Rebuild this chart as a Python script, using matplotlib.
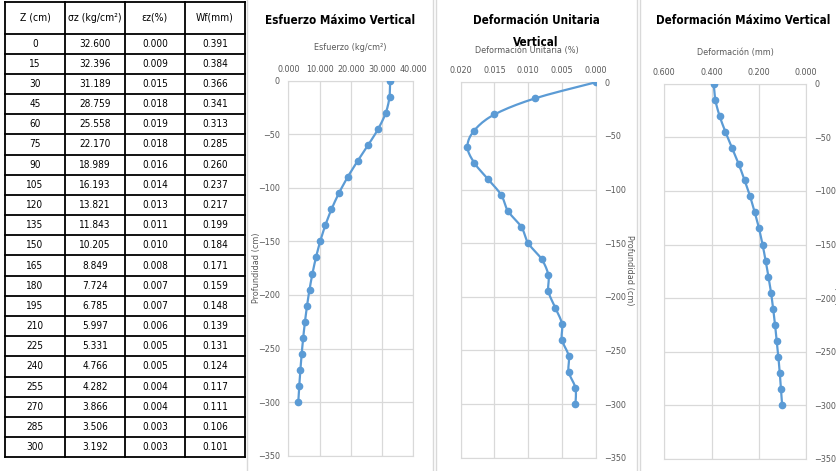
import numpy as np
import matplotlib.pyplot as plt

# datos de la tabla
z = [0, 15, 30, 45, 60, 75, 90, 105, 120, 135, 150, 165, 180, 195, 210, 225, 240, 255, 270, 285, 300]
sigma = [32.600, 32.396, 31.189, 28.759, 25.558, 22.170, 18.989, 16.193, 13.821, 11.843, 10.205,
         8.849, 7.724, 6.785, 5.997, 5.331, 4.766, 4.282, 3.866, 3.506, 3.192]
eps = [0.000, 0.009, 0.015, 0.018, 0.019, 0.018, 0.016, 0.014, 0.013, 0.011, 0.010,
       0.008, 0.007, 0.007, 0.006, 0.005, 0.005, 0.004, 0.004, 0.003, 0.003]
wf = [0.391, 0.384, 0.366, 0.341, 0.313, 0.285, 0.260, 0.237, 0.217, 0.199, 0.184,
      0.171, 0.159, 0.148, 0.139, 0.131, 0.124, 0.117, 0.111, 0.106, 0.101]
headers = ["Z (cm)", "σz (kg/cm²)", "εz(%)", "Wf(mm)"]

plt.rcParams['font.family'] = ['DejaVu Sans']
plt.rcParams['font.stretch'] = 'condensed'
BLUE = '#5B9BD5'
GRID = '#d9d9d9'
TXT = '#595959'


def smooth(x, y, xr, yr, n=10):
    # linea suavizada tipo Excel (Catmull-Rom) solo para dibujar
    P = np.column_stack([np.asarray(x, float) / xr, np.asarray(y, float) / yr])
    P = np.vstack([P[0], P, P[-1]])
    t = np.linspace(0, 1, n, endpoint=False)[:, None]
    out = []
    for i in range(1, len(P) - 2):
        p0, p1, p2, p3 = P[i - 1], P[i], P[i + 1], P[i + 2]
        c = 0.5 * (2 * p1 + (-p0 + p2) * t + (2 * p0 - 5 * p1 + 4 * p2 - p3) * t ** 2
                   + (-p0 + 3 * p1 - 3 * p2 + p3) * t ** 3)
        out.append(c)
    out.append(P[-2][None, :])
    out = np.vstack(out)
    return out[:, 0] * xr, out[:, 1] * yr


W, H = 836, 471
fig = plt.figure(figsize=(W / 100, H / 100), dpi=100)

# capa en pixeles para tabla, titulos y bordes
bg = fig.add_axes([0, 0, 1, 1])
bg.set_xlim(0, W)
bg.set_ylim(H, 0)
bg.axis('off')

# tabla
cols = [5, 65, 125, 185, 245]
top, head_bot, bot = 2, 33.5, 457.3
row_h = (bot - head_bot) / len(z)
rows_y = [top, head_bot] + [head_bot + row_h * (i + 1) for i in range(len(z))]
for yy in rows_y:
    bg.plot([cols[0], cols[-1]], [yy, yy], color='black', lw=1.3)
for xx in cols:
    bg.plot([xx, xx], [top, bot], color='black', lw=1.3)
for j, h in enumerate(headers):
    bg.text((cols[j] + cols[j + 1]) / 2, (top + head_bot) / 2, h, ha='center', va='center', fontsize=7.5)
for i in range(len(z)):
    yc = head_bot + row_h * (i + 0.5)
    vals = [str(z[i]), f"{sigma[i]:.3f}", f"{eps[i]:.3f}", f"{wf[i]:.3f}"]
    for j, v in enumerate(vals):
        bg.text((cols[j] + cols[j + 1]) / 2, yc, v, ha='center', va='center', fontsize=7.2)

# bordes de los paneles
for xx in [247, 433, 436, 637, 640]:
    bg.plot([xx, xx], [0, H], color=GRID, lw=1)

# titulos
TS = 8.4
bg.text(340, 20, "Esfuerzo Máximo Vertical", ha='center', va='center', fontsize=TS, weight='bold')
bg.text(536, 20, "Deformación Unitaria", ha='center', va='center', fontsize=TS, weight='bold')
bg.text(536, 42, "Vertical", ha='center', va='center', fontsize=TS, weight='bold')
bg.text(743, 20, "Deformación Máximo Vertical", ha='center', va='center', fontsize=TS, weight='bold')
bg.text(350, 48, "Esfuerzo (kg/cm²)", ha='center', va='center', fontsize=6.5, color=TXT)
bg.text(527, 50, "Deformación Unitaria (%)", ha='center', va='center', fontsize=6.5, color=TXT)
bg.text(735, 52, "Deformación (mm)", ha='center', va='center', fontsize=6.5, color=TXT)
bg.text(257, 268, "Profundidad (cm)", ha='center', va='center', fontsize=6.5, color=TXT, rotation=90)
bg.text(629, 270, "Profundidad (cm)", ha='center', va='center', fontsize=6.5, color=TXT, rotation=-90)
bg.text(838, 270, "Profundidad (cm)", ha='center', va='center', fontsize=6.5, color=TXT, rotation=-90)

depth = [-v for v in z]


def chart(rect, xs, xlim, xticks, fmt, yright):
    ax = fig.add_axes(rect)
    ax.set_xlim(*xlim)
    ax.set_ylim(-350, 0)
    ax.set_xticks(xticks)
    ax.set_xticklabels([fmt.format(v) for v in xticks])
    ax.set_yticks(range(-350, 1, 50))
    ax.xaxis.tick_top()
    if yright:
        ax.yaxis.tick_right()
    ax.tick_params(length=0, labelsize=6.5, colors=TXT)
    ax.tick_params(axis='x', pad=5)
    ax.tick_params(axis='y', pad=6)
    ax.grid(True, color=GRID, lw=0.9)
    for s in ax.spines.values():
        s.set_color(GRID)
    xr = abs(xlim[1] - xlim[0])
    sx, sy = smooth(xs, depth, xr, 350)
    ax.plot(sx, sy, color=BLUE, lw=1.6, zorder=3)
    ax.plot(xs, depth, 'o', color=BLUE, ms=4.5, zorder=4)
    return ax


chart([288.3 / W, 1 - 455.7 / H, 125 / W, 375 / H], sigma, (0, 40), [0, 10, 20, 30, 40], "{:.3f}", False)
chart([460.7 / W, 1 - 457.7 / H, 135 / W, 375.4 / H], eps, (0.020, 0.0), [0.020, 0.015, 0.010, 0.005, 0.0], "{:.3f}", True)
chart([664.3 / W, 1 - 459 / H, 141.7 / W, 375.3 / H], wf, (0.6, 0.0), [0.6, 0.4, 0.2, 0.0], "{:.3f}", True)

fig.savefig("out.png", dpi=100)
